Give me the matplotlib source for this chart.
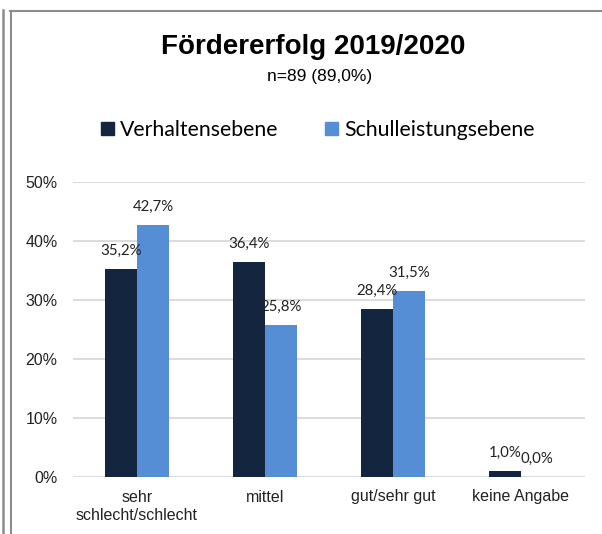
import numpy as np
import matplotlib.pyplot as plt
from matplotlib.lines import Line2D
from matplotlib.patches import Patch

# Förderergebnisse je Ebene (Anteile in %)
kategorien = ["sehr\nschlecht/schlecht", "mittel", "gut/sehr gut", "keine Angabe"]
verhalten = [35.2, 36.4, 28.4, 1.0]
schulleistung = [42.7, 25.8, 31.5, 0.0]
yticks = [0, 10, 20, 30, 40, 50]

c_dunkel = "#14253f"
c_hell = "#558ed5"
c_grid = "#d9d9d9"

fig = plt.figure(figsize=(6.02, 5.34), dpi=100)
ax = fig.add_axes([73/602, 1-477/534, 512/602, 295/534])

x = np.arange(len(kategorien))
w = 0.25
b1 = ax.bar(x - w/2, verhalten, w, color=c_dunkel, zorder=3)
b2 = ax.bar(x + w/2, schulleistung, w, color=c_hell, zorder=3)

for bars, vals in ((b1, verhalten), (b2, schulleistung)):
    for b, v in zip(bars, vals):
        ax.annotate("{:.1f}%".format(v).replace(".", ","),
                    (b.get_x() + b.get_width()/2, v),
                    xytext=(0, 8), textcoords="offset points",
                    ha="center", va="bottom", fontsize=10.8,
                    family="Lato", color="#222222")

ax.set_xlim(-0.5, len(kategorien) - 0.5)
ax.set_ylim(0, 50)
ax.set_yticks(yticks)
ax.set_yticklabels(["{}%".format(t) for t in yticks], family="Liberation Sans",
                   fontsize=11.5, color="#222222")
ax.set_xticks(x)
ax.set_xticklabels(kategorien, family="Liberation Sans", fontsize=11.5,
                   color="#222222", linespacing=1.25)
ax.tick_params(length=0, pad=9)
ax.tick_params(axis="y", pad=11)
for s in ax.spines.values():
    s.set_visible(False)
ax.yaxis.grid(True, color=c_grid, linewidth=1.3, zorder=0)
ax.set_axisbelow(True)

fig.text(313/602, 1-47/534, "Fördererfolg 2019/2020", ha="center", va="center",
         family="Liberation Sans", fontsize=20, fontweight="bold")
fig.text(320/602, 1-76/534, "n=89 (89,0%)", ha="center", va="center",
         family="Liberation Sans", fontsize=12.5)

handles = [Patch(color=c_dunkel), Patch(color=c_hell)]
fig.legend(handles, ["Verhaltensebene", "Schulleistungsebene"],
           loc="center", bbox_to_anchor=(318/602, 1-130/534), ncol=2,
           frameon=False, prop={"family": "Lato", "size": 15.3},
           handlelength=0.6, handleheight=0.6, handletextpad=0.3,
           columnspacing=2.2)

# Rahmen
rahmen = "#8c8c8c"
fig.add_artist(Line2D([2.5/602, 2.5/602], [0, 1-10/534], color=rahmen, lw=1.8,
                      transform=fig.transFigure))
fig.add_artist(Line2D([10.5/602, 10.5/602], [0, 1-11/534], color=rahmen, lw=1.5,
                      transform=fig.transFigure))
fig.add_artist(Line2D([10/602, 1], [1-11/534, 1-11/534], color=rahmen, lw=1.5,
                      transform=fig.transFigure))

fig.savefig("out.png", dpi=100)
